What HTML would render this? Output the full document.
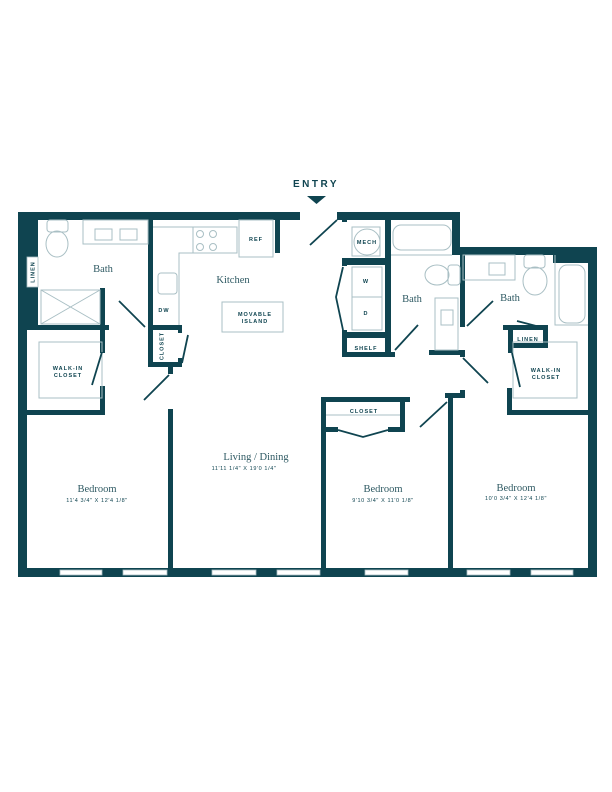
<!DOCTYPE html>
<html><head><meta charset="utf-8"><style>
html,body{margin:0;padding:0;background:#fff;}
svg{display:block;}
.w{fill:#0f4450;}
.l{fill:none;stroke:#a9bfc4;stroke-width:1;}
.d{stroke:#0f4450;stroke-width:1.8;fill:none;}
.r{font-family:"Liberation Serif",serif;font-size:10.5px;fill:#2f5a63;text-anchor:middle;}
.s{font-family:"Liberation Sans",sans-serif;font-size:5.5px;fill:#0f4450;text-anchor:middle;letter-spacing:1px;font-weight:bold;}
.m{font-family:"Liberation Sans",sans-serif;font-size:5.5px;fill:#0f4450;text-anchor:middle;letter-spacing:0.6px;}
</style></head><body>
<svg width="612" height="792" viewBox="0 0 612 792" xmlns="http://www.w3.org/2000/svg">
<text x="316" y="187" font-family="Liberation Sans,sans-serif" font-size="10" fill="#0f4450" text-anchor="middle" letter-spacing="2.5" font-weight="bold">ENTRY</text>
<polygon points="307,196 326,196 316.5,204" class="w"/>
<rect class="w" x="18" y="212" width="282" height="8"/>
<rect class="w" x="275" y="220" width="5" height="33"/>
<rect class="w" x="18" y="212" width="9" height="365"/>
<rect class="w" x="18" y="212" width="20" height="113"/>
<rect x="27" y="257" width="11" height="30" fill="#fff" stroke="#a9bfc4" stroke-width="0.8"/>
<text class="s" transform="translate(34.5,272) rotate(-90)">LINEN</text>
<rect class="w" x="100" y="288" width="5" height="37"/>
<rect class="w" x="18" y="325" width="91" height="5"/>
<rect class="w" x="100" y="330" width="5" height="23"/>
<rect class="w" x="100" y="386" width="5" height="29"/>
<rect class="w" x="18" y="410" width="87" height="5"/>
<rect class="w" x="148" y="220" width="5" height="147"/>
<rect class="w" x="148" y="325" width="34" height="5"/>
<rect class="w" x="148" y="362" width="34" height="5"/>
<rect class="w" x="178" y="325" width="4" height="8"/>
<rect class="w" x="178" y="358" width="4" height="9"/>
<rect class="w" x="168" y="367" width="5" height="7"/>
<rect class="w" x="168" y="409" width="5" height="168"/>
<rect class="w" x="18" y="568" width="579" height="9"/>
<rect class="w" x="588" y="247" width="9" height="330"/>
<rect class="w" x="460" y="247" width="137" height="8"/>
<rect class="w" x="553" y="247" width="44" height="16"/>
<rect class="w" x="337" y="212" width="123" height="8"/>
<rect class="w" x="452" y="212" width="8" height="43"/>
<rect class="w" x="460" y="247" width="5" height="80"/>
<rect class="w" x="460" y="350" width="5" height="7"/>
<rect class="w" x="342" y="212" width="5" height="10"/>
<rect class="w" x="342" y="258" width="5" height="8"/>
<rect class="w" x="342" y="330" width="5" height="27"/>
<rect class="w" x="385" y="220" width="6" height="137"/>
<rect class="w" x="342" y="258" width="49" height="7"/>
<rect class="w" x="342" y="332" width="49" height="6"/>
<rect class="w" x="342" y="352" width="53" height="5"/>
<rect class="w" x="429" y="350" width="36" height="5"/>
<rect class="w" x="503" y="325" width="45" height="5"/>
<rect class="w" x="508" y="325" width="5" height="28"/>
<rect class="w" x="508" y="343" width="40" height="5"/>
<rect class="w" x="543" y="325" width="5" height="23"/>
<rect class="w" x="507" y="388" width="5" height="27"/>
<rect class="w" x="507" y="410" width="81" height="5"/>
<rect class="w" x="321" y="397" width="89" height="5"/>
<rect class="w" x="321" y="397" width="5" height="180"/>
<rect class="w" x="400" y="397" width="5" height="35"/>
<rect class="w" x="326" y="427" width="12" height="5"/>
<rect class="w" x="388" y="427" width="17" height="5"/>
<rect class="w" x="448" y="398" width="5" height="179"/>
<rect class="w" x="445" y="393" width="20" height="5"/>
<rect class="w" x="460" y="390" width="5" height="8"/>
<g fill="#fff" stroke="#a9bfc4" stroke-width="0.8">
<rect x="60" y="570" width="42" height="5"/><rect x="123" y="570" width="44" height="5"/>
<rect x="212" y="570" width="44" height="5"/><rect x="277" y="570" width="43" height="5"/>
<rect x="365" y="570" width="43" height="5"/><rect x="467" y="570" width="43" height="5"/>
<rect x="531" y="570" width="42" height="5"/>
</g>
<g class="l">
<rect x="83" y="220" width="65" height="24"/>
<rect x="95" y="229" width="17" height="11"/><rect x="120" y="229" width="17" height="11"/>
<rect x="47" y="220" width="21" height="12" rx="3"/><ellipse cx="57" cy="244" rx="11" ry="13"/>
<rect x="41" y="290" width="59" height="34"/><path d="M41 290L100 324M100 290L41 324"/>
<rect x="39" y="342" width="63" height="56"/>
<rect x="193" y="227" width="44" height="26"/>
<circle cx="200" cy="234" r="3.5"/><circle cx="213" cy="234" r="3.5"/><circle cx="200" cy="247" r="3.5"/><circle cx="213" cy="247" r="3.5"/>
<rect x="239" y="220" width="34" height="37"/>
<path d="M153 227H193M179 325V253H193"/>
<rect x="158" y="273" width="19" height="21" rx="3"/>
<rect x="222" y="302" width="61" height="30"/>
<rect x="352" y="227" width="28" height="29"/><circle cx="367" cy="242" r="13"/>
<rect x="352" y="267" width="30" height="30"/><rect x="352" y="297" width="30" height="33"/>
<rect x="393" y="225" width="58" height="25" rx="8"/>
<path d="M391 255H452"/>
<rect x="448" y="265" width="12" height="20" rx="3"/><ellipse cx="437" cy="275" rx="12" ry="10"/>
<rect x="435" y="298" width="23" height="52"/><rect x="441" y="310" width="12" height="15"/>
<rect x="463" y="255" width="52" height="25"/><rect x="489" y="263" width="16" height="12"/>
<rect x="524" y="255" width="21" height="13" rx="3"/><ellipse cx="535" cy="281" rx="12" ry="14"/>
<rect x="559" y="265" width="26" height="58" rx="8"/>
<path d="M555 255V325H588"/>
<rect x="513" y="342" width="64" height="56"/>
<path d="M326 415H400"/>
</g>
<g class="d">
<path d="M310 245L337 220"/>
<path d="M119 301L145 327"/>
<path d="M102 352L92 385"/>
<path d="M188 335L182 363"/>
<path d="M169 375L144 400"/>
<path d="M343 267L336 297L343 330"/>
<path d="M395 350L418 325"/>
<path d="M467 326L493 301"/>
<path d="M517 321L540 327"/>
<path d="M512 353L520 387"/>
<path d="M463 358L488 383"/>
<path d="M338 430L363 437L388 430"/>
<path d="M420 427L447 402"/>
</g>
<text class="r" x="103" y="272">Bath</text>
<text class="r" x="233" y="283">Kitchen</text>
<text class="r" x="412" y="302">Bath</text>
<text class="r" x="510" y="301">Bath</text>
<text class="s" x="255" y="316">MOVABLE</text><text class="s" x="255" y="323">ISLAND</text>
<text class="s" x="164" y="312">DW</text>
<text class="s" x="256" y="241">REF</text>
<text class="s" transform="translate(163.5,346) rotate(-90)">CLOSET</text>
<text class="s" x="68" y="370">WALK-IN</text><text class="s" x="68" y="377">CLOSET</text>
<text class="s" x="546" y="372">WALK-IN</text><text class="s" x="546" y="379">CLOSET</text>
<text class="s" x="367" y="244">MECH</text>
<text class="s" x="366" y="283">W</text><text class="s" x="366" y="315">D</text>
<text class="s" x="366" y="350">SHELF</text>
<text class="s" x="528" y="341">LINEN</text>
<text class="s" x="364" y="413">CLOSET</text>
<text class="r" x="256" y="460">Living / Dining</text>
<text class="m" x="244" y="470">11'11 1/4" X 19'0 1/4"</text>
<text class="r" x="97" y="492">Bedroom</text>
<text class="m" x="97" y="502">11'4 3/4" X 12'4 1/8"</text>
<text class="r" x="383" y="492">Bedroom</text>
<text class="m" x="383" y="502">9'10 3/4" X 11'0 1/8"</text>
<text class="r" x="516" y="491">Bedroom</text>
<text class="m" x="516" y="500">10'0 3/4" X 12'4 1/8"</text>
</svg>
</body></html>
